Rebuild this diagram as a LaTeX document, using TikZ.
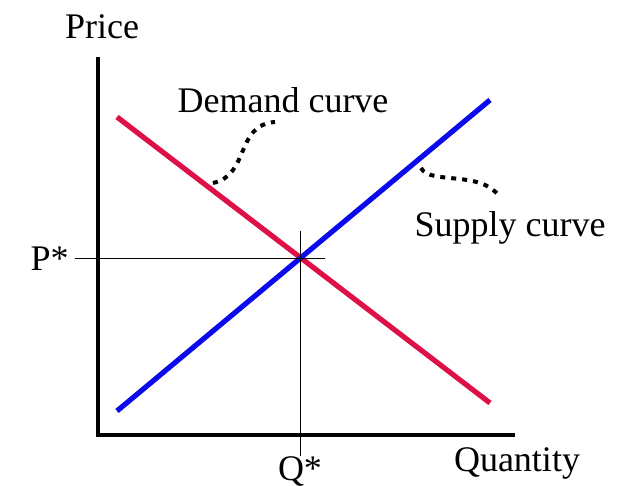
\documentclass[tikz,border=0pt]{standalone}
\usepackage{fontspec}
\setmainfont{Liberation Serif}
\usetikzlibrary{positioning}
\definecolor{demandred}{RGB}{222,16,72}
\definecolor{supplyblue}{RGB}{10,10,235}
\tikzset{
	axis/.style = {line width=1.6pt},
	guide/.style = {line width=0.5pt},
	curve/.style = {line width=2.6pt},
	pointer/.style = {line width=2pt, dash pattern=on 2.5pt off 3pt},
	lbl/.style = {font=\fontsize{18}{20}\selectfont, inner sep=0pt}
}

\begin{document}
\begin{tikzpicture}[x=0.5pt, y=0.5pt]
		\useasboundingbox (0,0) rectangle (644,486);
		% axes
		\coordinate (o) at (98,51);
		\coordinate (ytop) at (98,429);
		\coordinate (xend) at (515,51);
		\draw[axis] (ytop) -- (o) -- (xend);
		\node (price) [lbl] at (102,459) {Price};
		\node (qty) [lbl] at (517,23) {Quantity};
		% curves
		\coordinate (d1) at (117,369);
		\coordinate (d2) at (490,83);
		\coordinate (s1) at (117,75);
		\coordinate (s2) at (490,386);
		\draw[curve, demandred] (d1) -- (d2);
		\draw[curve, supplyblue] (s1) -- (s2);
		% equilibrium
		\coordinate (eq) at (300,227);
		\coordinate (ht) at (75,227);
		\coordinate (hr) at (325,227);
		\coordinate (vt) at (300,255);
		\coordinate (vb) at (300,30);
		\draw[guide] (ht) -- (hr);
		\draw[guide] (vt) -- (vb);
		\node (pstar) [lbl, left = 3pt of ht] {P*};
		\node (qstar) [lbl, anchor=north] at (300,30) {Q*};
		% labels
		\node (dlab) [lbl] at (283,386) {Demand curve};
		\node (slab) [lbl] at (510,258) {Supply curve};
		\coordinate (dp) at (213,303);
		\coordinate (de) at (275,364);
		\coordinate (sp) at (421,318);
		\coordinate (se) at (499,290);
		\draw[pointer] (dp) .. controls (250,311) and (235,361) .. (de);
		\draw[pointer] (sp) .. controls (430,301) and (480,316) .. (se);
	\end{tikzpicture}
\end{document}
